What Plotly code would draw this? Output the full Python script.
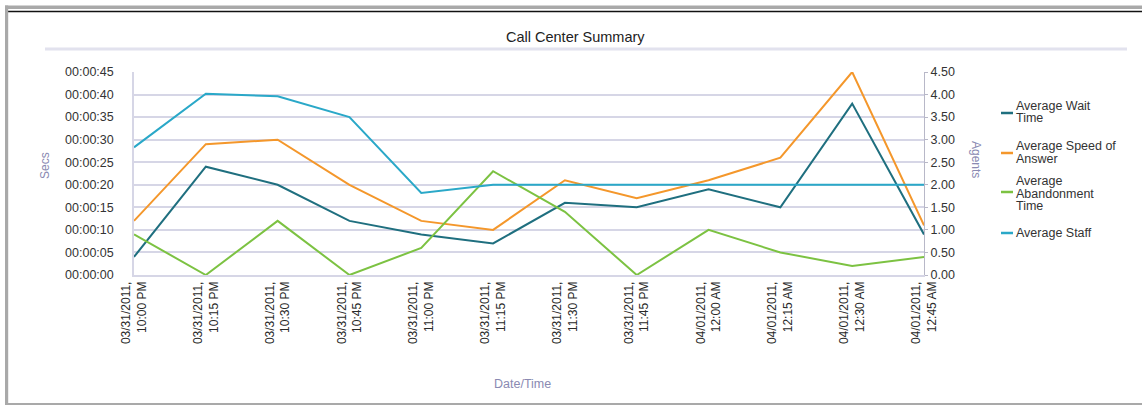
import plotly.graph_objects as go

# ---- data ----
categories = [
    "03/31/2011,<br>10:00 PM", "03/31/2011,<br>10:15 PM", "03/31/2011,<br>10:30 PM",
    "03/31/2011,<br>10:45 PM", "03/31/2011,<br>11:00 PM", "03/31/2011,<br>11:15 PM",
    "03/31/2011,<br>11:30 PM", "03/31/2011,<br>11:45 PM", "04/01/2011,<br>12:00 AM",
    "04/01/2011,<br>12:15 AM", "04/01/2011,<br>12:30 AM", "04/01/2011,<br>12:45 AM",
]
wait_time = [4, 24, 20, 12, 9, 7, 16, 15, 19, 15, 38, 9]          # seconds
speed_answer = [12, 29, 30, 20, 12, 10, 21, 17, 21, 26, 45, 11]   # seconds
abandon_time = [9, 0, 12, 0, 6, 23, 14, 0, 10, 5, 2, 4]            # seconds
avg_staff = [2.83, 4.02, 3.96, 3.5, 1.82, 2.0, 2.0, 2.0, 2.0, 2.0, 2.0, 2.0]  # agents

sec_ticks = [0, 5, 10, 15, 20, 25, 30, 35, 40, 45]
sec_tick_text = ["00:00:%02d" % s for s in sec_ticks]
agent_ticks = [0, 0.5, 1, 1.5, 2, 2.5, 3, 3.5, 4, 4.5]

series_names = ["Average Wait<br>Time", "Average Speed of<br>Answer",
                "Average<br>Abandonment<br>Time", "Average Staff"]
colors = ["#1f6f7f", "#f4972b", "#7cc242", "#2aa8c8"]

# ---- geometry (pixels) ----
W, H = 1142, 405
PL, PR, PT, PB = 134, 924, 72, 275

def px(x):
    return (x - PL) / (PR - PL)

def py(y):
    return (PB - y) / (PB - PT)

xs = list(range(len(categories)))

fig = go.Figure()
for vals, c in zip([wait_time, speed_answer, abandon_time], colors[:3]):
    fig.add_trace(go.Scatter(x=xs, y=vals, mode="lines", line=dict(color=c, width=2),
                             showlegend=False, yaxis="y"))
fig.add_trace(go.Scatter(x=xs, y=avg_staff, mode="lines", line=dict(color=colors[3], width=2),
                         showlegend=False, yaxis="y2"))

font_family = "Liberation Sans, Arial, sans-serif"
grid_c = "#d6d6e6"
label_c = "#8a8ab2"

fig.update_layout(
    width=W, height=H, autosize=False,
    margin=dict(l=PL, r=W - PR, t=PT, b=H - PB, pad=0),
    paper_bgcolor="white", plot_bgcolor="white",
    font=dict(family=font_family, size=12, color="#333333"),
    xaxis=dict(
        range=[0, 11], tickmode="array", tickvals=xs, ticktext=categories,
        tickangle=-90, tickfont=dict(size=12, color="#2a2a2a"),
        showgrid=False, zeroline=False, showline=True, linecolor=grid_c, linewidth=1.5,
        ticks="", fixedrange=True,
    ),
    yaxis=dict(
        range=[0, 45], tickmode="array", tickvals=sec_ticks, ticktext=sec_tick_text,
        showgrid=True, gridcolor=grid_c, gridwidth=1.5, zeroline=False,
        showline=True, linecolor=grid_c, linewidth=1.5,
        ticks="outside", ticklen=0, ticklabelstandoff=16,
        tickfont=dict(size=12.5, color="#333333"),
    ),
    yaxis2=dict(
        range=[0, 4.5], tickmode="array", tickvals=agent_ticks, tickformat=".2f",
        overlaying="y", side="right", showgrid=False, zeroline=False,
        showline=True, linecolor="#b8b8c8", linewidth=1,
        ticks="outside", ticklen=3, tickcolor="#b8b8c8",
        tickfont=dict(size=12.5, color="#333333"),
    ),
)

shapes = []
# outer frame
shapes.append(dict(type="rect", xref="paper", yref="paper", x0=px(5), x1=px(W + 2), y0=py(5.5), y1=py(9),
                   fillcolor="#a9a9a9", line=dict(width=0), layer="above"))
shapes.append(dict(type="line", xref="paper", yref="paper", x0=px(8), x1=px(W + 2), y0=py(11.5), y1=py(11.5),
                   line=dict(color="#111111", width=1.6), layer="above"))
shapes.append(dict(type="rect", xref="paper", yref="paper", x0=px(5), x1=px(8.2), y0=py(5.5), y1=py(H + 2),
                   fillcolor="#a9a9a9", line=dict(width=0), layer="above"))
shapes.append(dict(type="rect", xref="paper", yref="paper", x0=px(5), x1=px(W + 2), y0=py(403), y1=py(H + 2),
                   fillcolor="#a9a9a9", line=dict(width=0), layer="above"))
# title underline
shapes.append(dict(type="line", xref="paper", yref="paper", x0=px(45), x1=px(1127), y0=py(49), y1=py(49),
                   line=dict(color="#e2e2ee", width=3), layer="above"))
# legend swatches
legend_y = [113, 153, 192, 233]
legend_line_y = [[106, 118], [146, 159], [181, 193.5, 206], [233]]
for c, yy in zip(colors, legend_y):
    shapes.append(dict(type="line", xref="paper", yref="paper", x0=px(1001), x1=px(1013), y0=py(yy), y1=py(yy),
                       line=dict(color=c, width=2.5), layer="above"))
fig.update_layout(shapes=shapes)

annotations = []
annotations.append(dict(text="Call Center Summary", xref="paper", yref="paper", x=px(575), y=py(37),
                        showarrow=False, font=dict(size=14.5, color="#222222"), xanchor="center", yanchor="middle"))
annotations.append(dict(text="Secs", xref="paper", yref="paper", x=px(45), y=py(166), textangle=-90,
                        showarrow=False, font=dict(size=12, color=label_c), xanchor="center", yanchor="middle"))
annotations.append(dict(text="Agents", xref="paper", yref="paper", x=px(976), y=py(160), textangle=90,
                        showarrow=False, font=dict(size=12, color=label_c), xanchor="center", yanchor="middle"))
annotations.append(dict(text="Date/Time", xref="paper", yref="paper", x=px(522), y=py(384),
                        showarrow=False, font=dict(size=12.5, color=label_c), xanchor="center", yanchor="middle"))
for name, ys in zip(series_names, legend_line_y):
    for part, yy in zip(name.split("<br>"), ys):
        annotations.append(dict(text=part, xref="paper", yref="paper", x=px(1014), y=py(yy),
                                showarrow=False, align="left", xanchor="left", yanchor="middle",
                                font=dict(size=12.5, color="#333333")))
fig.update_layout(annotations=annotations)

fig.write_html("out.html", config={"displayModeBar": False},
               post_script="document.body.style.margin='0';")
